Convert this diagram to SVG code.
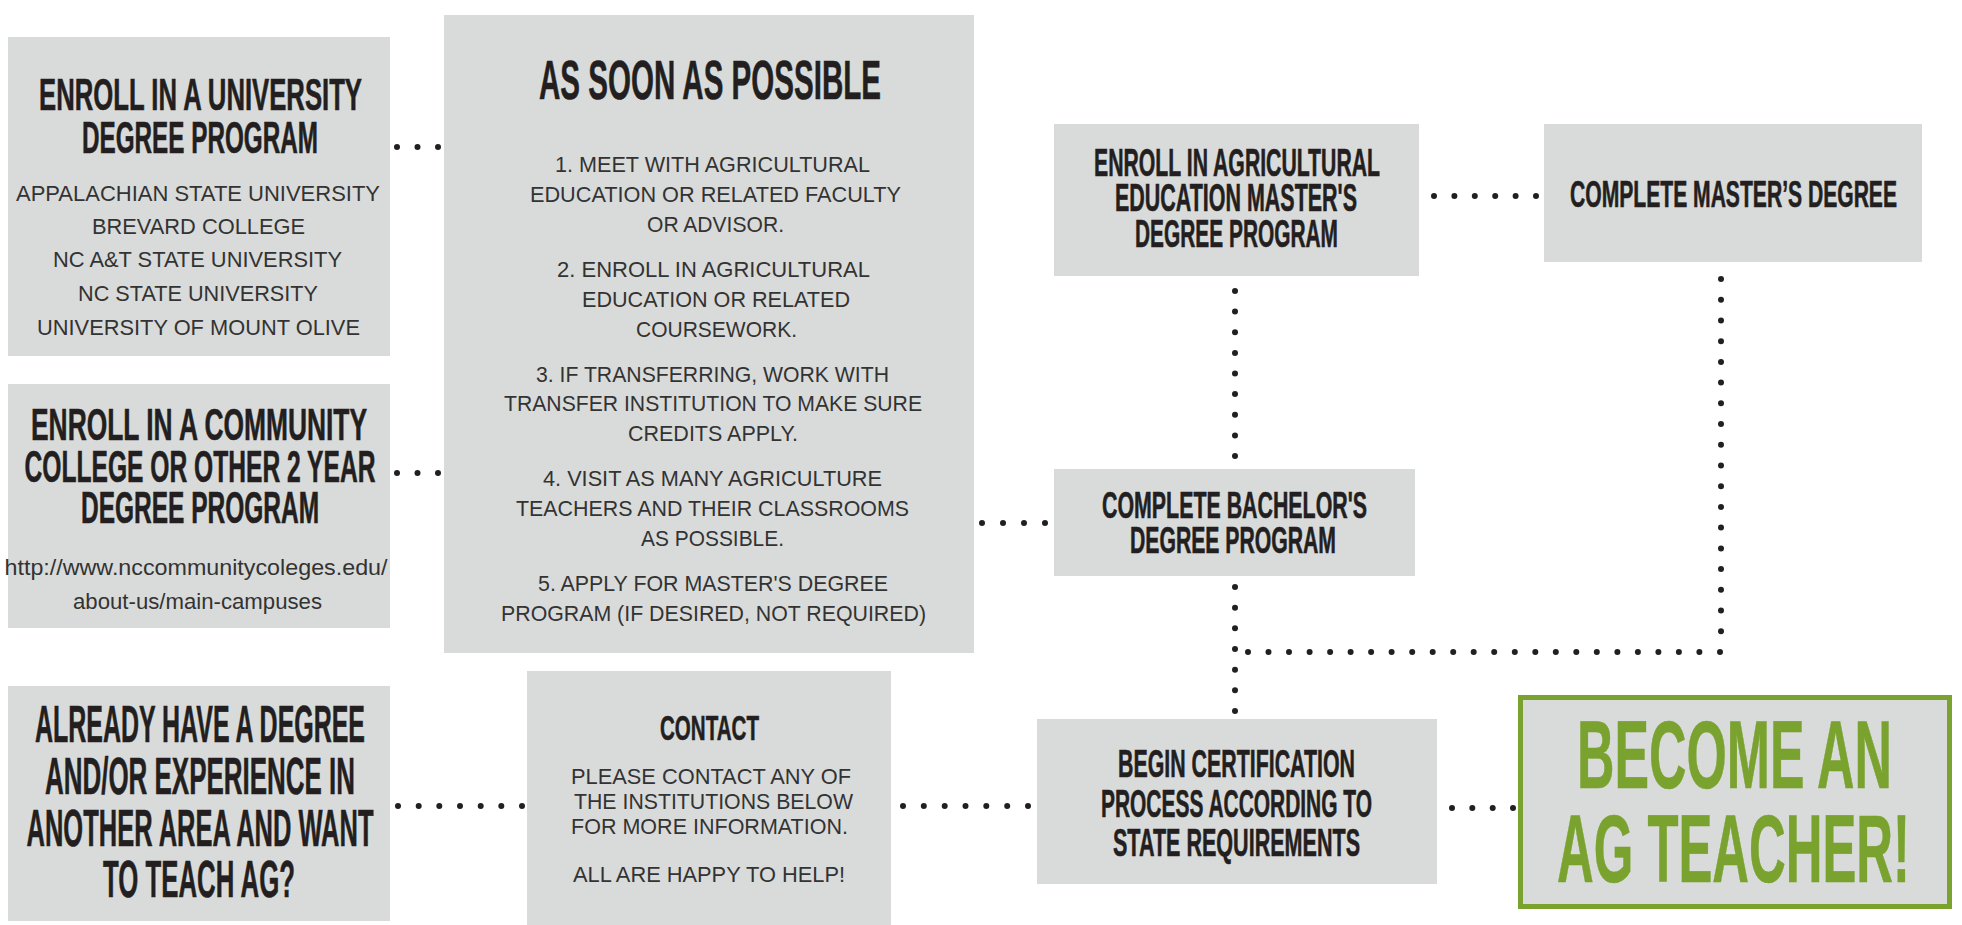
<svg xmlns="http://www.w3.org/2000/svg" width="1962" height="925" viewBox="0 0 1962 925">
<style>
.box{fill:#d9dbda}
.gbox{fill:#d9dbda;stroke:#79a22e;stroke-width:5}
.t{font-family:"Liberation Sans Narrow","Liberation Sans","DejaVu Sans Condensed",sans-serif;font-weight:bold;fill:#231f20;stroke:#231f20;stroke-width:0.6;text-anchor:middle}
.g{fill:#79a22e;stroke:#79a22e}
.b{font-family:"Liberation Sans","Helvetica",Arial,sans-serif;font-size:21.5px;fill:#333333;text-anchor:middle}
.d{fill:#231f20}
</style>
<rect width="1962" height="925" fill="#ffffff"/>

<g id="connectors">
  <!-- university -> asap -->
  <circle class="d" cx="397" cy="147" r="3"/><circle class="d" cx="417.5" cy="147" r="3"/><circle class="d" cx="438" cy="147" r="3"/>
  <!-- community -> asap -->
  <circle class="d" cx="397" cy="473" r="3"/><circle class="d" cx="417.5" cy="473" r="3"/><circle class="d" cx="438" cy="473" r="3"/>
  <!-- already -> contact -->
  <circle class="d" cx="398" cy="806" r="3"/><circle class="d" cx="418.7" cy="806" r="3"/><circle class="d" cx="439.3" cy="806" r="3"/><circle class="d" cx="460" cy="806" r="3"/><circle class="d" cx="480.7" cy="806" r="3"/><circle class="d" cx="501.3" cy="806" r="3"/><circle class="d" cx="522" cy="806" r="3"/>
  <!-- contact -> certification -->
  <circle class="d" cx="903" cy="806" r="3"/><circle class="d" cx="923.8" cy="806" r="3"/><circle class="d" cx="944.7" cy="806" r="3"/><circle class="d" cx="965.5" cy="806" r="3"/><circle class="d" cx="986.3" cy="806" r="3"/><circle class="d" cx="1007.2" cy="806" r="3"/><circle class="d" cx="1028" cy="806" r="3"/>
  <!-- asap -> bachelor -->
  <circle class="d" cx="982" cy="523" r="3"/><circle class="d" cx="1003" cy="523" r="3"/><circle class="d" cx="1024" cy="523" r="3"/><circle class="d" cx="1045" cy="523" r="3"/>
  <!-- enroll masters -> complete masters -->
  <circle class="d" cx="1434" cy="196" r="3"/><circle class="d" cx="1454.4" cy="196" r="3"/><circle class="d" cx="1474.8" cy="196" r="3"/><circle class="d" cx="1495.2" cy="196" r="3"/><circle class="d" cx="1515.6" cy="196" r="3"/><circle class="d" cx="1536" cy="196" r="3"/>
  <!-- enroll masters down to bachelor -->
  <circle class="d" cx="1235" cy="291" r="3"/><circle class="d" cx="1235" cy="311.6" r="3"/><circle class="d" cx="1235" cy="332.3" r="3"/><circle class="d" cx="1235" cy="352.9" r="3"/><circle class="d" cx="1235" cy="373.5" r="3"/><circle class="d" cx="1235" cy="394.1" r="3"/><circle class="d" cx="1235" cy="414.8" r="3"/><circle class="d" cx="1235" cy="435.4" r="3"/><circle class="d" cx="1235" cy="456" r="3"/>
  <!-- bachelor down to certification -->
  <circle class="d" cx="1235" cy="587" r="3"/><circle class="d" cx="1235" cy="607.7" r="3"/><circle class="d" cx="1235" cy="628.3" r="3"/><circle class="d" cx="1235" cy="649" r="3"/><circle class="d" cx="1235" cy="669.7" r="3"/><circle class="d" cx="1235" cy="690.3" r="3"/><circle class="d" cx="1235" cy="711" r="3"/>
  <!-- horizontal joining the master's line to the bachelor line -->
  <circle class="d" cx="1248" cy="652" r="3"/><circle class="d" cx="1268.5" cy="652" r="3"/><circle class="d" cx="1289" cy="652" r="3"/><circle class="d" cx="1309.6" cy="652" r="3"/><circle class="d" cx="1330.1" cy="652" r="3"/><circle class="d" cx="1350.6" cy="652" r="3"/><circle class="d" cx="1371.1" cy="652" r="3"/><circle class="d" cx="1391.6" cy="652" r="3"/><circle class="d" cx="1412.2" cy="652" r="3"/><circle class="d" cx="1432.7" cy="652" r="3"/><circle class="d" cx="1453.2" cy="652" r="3"/><circle class="d" cx="1473.7" cy="652" r="3"/><circle class="d" cx="1494.2" cy="652" r="3"/><circle class="d" cx="1514.8" cy="652" r="3"/><circle class="d" cx="1535.3" cy="652" r="3"/><circle class="d" cx="1555.8" cy="652" r="3"/><circle class="d" cx="1576.3" cy="652" r="3"/><circle class="d" cx="1596.8" cy="652" r="3"/><circle class="d" cx="1617.4" cy="652" r="3"/><circle class="d" cx="1637.9" cy="652" r="3"/><circle class="d" cx="1658.4" cy="652" r="3"/><circle class="d" cx="1678.9" cy="652" r="3"/><circle class="d" cx="1699.4" cy="652" r="3"/><circle class="d" cx="1720" cy="652" r="3"/>
  <!-- complete masters down -->
  <circle class="d" cx="1721" cy="279" r="3"/><circle class="d" cx="1721" cy="299.7" r="3"/><circle class="d" cx="1721" cy="320.4" r="3"/><circle class="d" cx="1721" cy="341.2" r="3"/><circle class="d" cx="1721" cy="361.9" r="3"/><circle class="d" cx="1721" cy="382.6" r="3"/><circle class="d" cx="1721" cy="403.3" r="3"/><circle class="d" cx="1721" cy="424" r="3"/><circle class="d" cx="1721" cy="444.8" r="3"/><circle class="d" cx="1721" cy="465.5" r="3"/><circle class="d" cx="1721" cy="486.2" r="3"/><circle class="d" cx="1721" cy="506.9" r="3"/><circle class="d" cx="1721" cy="527.6" r="3"/><circle class="d" cx="1721" cy="548.4" r="3"/><circle class="d" cx="1721" cy="569.1" r="3"/><circle class="d" cx="1721" cy="589.8" r="3"/><circle class="d" cx="1721" cy="610.5" r="3"/><circle class="d" cx="1721" cy="631.2" r="3"/>
  <!-- certification -> become -->
  <circle class="d" cx="1452" cy="808" r="3"/><circle class="d" cx="1472.3" cy="808" r="3"/><circle class="d" cx="1492.7" cy="808" r="3"/><circle class="d" cx="1513" cy="808" r="3"/>
</g>

<g id="university">
  <rect class="box" x="8" y="37" width="382" height="319"/>
  <text class="t" transform="translate(200.5,110) scale(0.65,1)" x="0" y="0" font-size="44" textLength="496.9" lengthAdjust="spacingAndGlyphs">ENROLL IN A UNIVERSITY</text>
  <text class="t" transform="translate(200,153) scale(0.65,1)" x="0" y="0" font-size="44" textLength="363.1" lengthAdjust="spacingAndGlyphs">DEGREE PROGRAM</text>
  <text class="b" x="198" y="201" textLength="364" lengthAdjust="spacingAndGlyphs">APPALACHIAN STATE UNIVERSITY</text>
  <text class="b" x="198.5" y="234" textLength="213" lengthAdjust="spacingAndGlyphs">BREVARD COLLEGE</text>
  <text class="b" x="197.5" y="267" textLength="289" lengthAdjust="spacingAndGlyphs">NC A&amp;T STATE UNIVERSITY</text>
  <text class="b" x="198" y="301" textLength="240" lengthAdjust="spacingAndGlyphs">NC STATE UNIVERSITY</text>
  <text class="b" x="198.5" y="335" textLength="323" lengthAdjust="spacingAndGlyphs">UNIVERSITY OF MOUNT OLIVE</text>
</g>

<g id="community">
  <rect class="box" x="8" y="384" width="382" height="244"/>
  <text class="t" transform="translate(199,440) scale(0.65,1)" x="0" y="0" font-size="45" textLength="516.9" lengthAdjust="spacingAndGlyphs">ENROLL IN A COMMUNITY</text>
  <text class="t" transform="translate(200,482) scale(0.65,1)" x="0" y="0" font-size="45" textLength="540" lengthAdjust="spacingAndGlyphs">COLLEGE OR OTHER 2 YEAR</text>
  <text class="t" transform="translate(200,523) scale(0.65,1)" x="0" y="0" font-size="45" textLength="366.2" lengthAdjust="spacingAndGlyphs">DEGREE PROGRAM</text>
  <text class="b" x="196" y="575" textLength="383" lengthAdjust="spacingAndGlyphs">http://www.nccommunitycoleges.edu/</text>
  <text class="b" x="197.5" y="609" textLength="249" lengthAdjust="spacingAndGlyphs">about-us/main-campuses</text>
</g>

<g id="already">
  <rect class="box" x="8" y="686" width="382" height="235"/>
  <text class="t" transform="translate(200,742) scale(0.65,1)" x="0" y="0" font-size="52" textLength="507.7" lengthAdjust="spacingAndGlyphs">ALREADY HAVE A DEGREE</text>
  <text class="t" transform="translate(200,794) scale(0.65,1)" x="0" y="0" font-size="52" textLength="476.9" lengthAdjust="spacingAndGlyphs">AND/OR EXPERIENCE IN</text>
  <text class="t" transform="translate(200,846) scale(0.65,1)" x="0" y="0" font-size="52" textLength="533.8" lengthAdjust="spacingAndGlyphs">ANOTHER AREA AND WANT</text>
  <text class="t" transform="translate(199,897) scale(0.65,1)" x="0" y="0" font-size="52" textLength="295.4" lengthAdjust="spacingAndGlyphs">TO TEACH AG?</text>
</g>

<g id="asap">
  <rect class="box" x="444" y="15" width="530" height="638"/>
  <text class="t" transform="translate(710,99) scale(0.65,1)" x="0" y="0" font-size="55" textLength="526.2" lengthAdjust="spacingAndGlyphs">AS SOON AS POSSIBLE</text>
  <text class="b" x="712.5" y="172" textLength="315" lengthAdjust="spacingAndGlyphs">1. MEET WITH AGRICULTURAL</text>
  <text class="b" x="715.5" y="202" textLength="371" lengthAdjust="spacingAndGlyphs">EDUCATION OR RELATED FACULTY</text>
  <text class="b" x="715.5" y="232" textLength="137" lengthAdjust="spacingAndGlyphs">OR ADVISOR.</text>
  <text class="b" x="713.5" y="277" textLength="313" lengthAdjust="spacingAndGlyphs">2. ENROLL IN AGRICULTURAL</text>
  <text class="b" x="716" y="307" textLength="268" lengthAdjust="spacingAndGlyphs">EDUCATION OR RELATED</text>
  <text class="b" x="716.5" y="337" textLength="161" lengthAdjust="spacingAndGlyphs">COURSEWORK.</text>
  <text class="b" x="712.5" y="382" textLength="353" lengthAdjust="spacingAndGlyphs">3. IF TRANSFERRING, WORK WITH</text>
  <text class="b" x="713" y="411" textLength="418" lengthAdjust="spacingAndGlyphs">TRANSFER INSTITUTION TO MAKE SURE</text>
  <text class="b" x="713" y="441" textLength="170" lengthAdjust="spacingAndGlyphs">CREDITS APPLY.</text>
  <text class="b" x="712.5" y="486" textLength="339" lengthAdjust="spacingAndGlyphs">4. VISIT AS MANY AGRICULTURE</text>
  <text class="b" x="712.5" y="516" textLength="393" lengthAdjust="spacingAndGlyphs">TEACHERS AND THEIR CLASSROOMS</text>
  <text class="b" x="712.5" y="546" textLength="143" lengthAdjust="spacingAndGlyphs">AS POSSIBLE.</text>
  <text class="b" x="713" y="591" textLength="350" lengthAdjust="spacingAndGlyphs">5. APPLY FOR MASTER'S DEGREE</text>
  <text class="b" x="713.5" y="621" textLength="425" lengthAdjust="spacingAndGlyphs">PROGRAM (IF DESIRED, NOT REQUIRED)</text>
</g>

<g id="contact">
  <rect class="box" x="527" y="671" width="364" height="254"/>
  <text class="t" transform="translate(709.5,740) scale(0.65,1)" x="0" y="0" font-size="36" textLength="152.3" lengthAdjust="spacingAndGlyphs">CONTACT</text>
  <text class="b" x="711" y="784" textLength="280" lengthAdjust="spacingAndGlyphs">PLEASE CONTACT ANY OF</text>
  <text class="b" x="713.5" y="809" textLength="279" lengthAdjust="spacingAndGlyphs">THE INSTITUTIONS BELOW</text>
  <text class="b" x="709.5" y="834" textLength="277" lengthAdjust="spacingAndGlyphs">FOR MORE INFORMATION.</text>
  <text class="b" x="709" y="882" textLength="272" lengthAdjust="spacingAndGlyphs">ALL ARE HAPPY TO HELP!</text>
</g>

<g id="enroll-masters">
  <rect class="box" x="1054" y="124" width="365" height="152"/>
  <text class="t" transform="translate(1237,176) scale(0.65,1)" x="0" y="0" font-size="38" textLength="440" lengthAdjust="spacingAndGlyphs">ENROLL IN AGRICULTURAL</text>
  <text class="t" transform="translate(1236,211) scale(0.65,1)" x="0" y="0" font-size="38" textLength="372.3" lengthAdjust="spacingAndGlyphs">EDUCATION MASTER'S</text>
  <text class="t" transform="translate(1236.5,247) scale(0.65,1)" x="0" y="0" font-size="38" textLength="312.3" lengthAdjust="spacingAndGlyphs">DEGREE PROGRAM</text>
</g>

<g id="complete-masters">
  <rect class="box" x="1544" y="124" width="378" height="138"/>
  <text class="t" transform="translate(1733.5,207) scale(0.65,1)" x="0" y="0" font-size="37" textLength="503.1" lengthAdjust="spacingAndGlyphs">COMPLETE MASTER’S DEGREE</text>
</g>

<g id="bachelor">
  <rect class="box" x="1054" y="469" width="361" height="107"/>
  <text class="t" transform="translate(1234.5,518) scale(0.65,1)" x="0" y="0" font-size="37" textLength="407.7" lengthAdjust="spacingAndGlyphs">COMPLETE BACHELOR'S</text>
  <text class="t" transform="translate(1233,553) scale(0.65,1)" x="0" y="0" font-size="37" textLength="316.9" lengthAdjust="spacingAndGlyphs">DEGREE PROGRAM</text>
</g>

<g id="certification">
  <rect class="box" x="1037" y="719" width="400" height="165"/>
  <text class="t" transform="translate(1236.5,777) scale(0.65,1)" x="0" y="0" font-size="38" textLength="364.6" lengthAdjust="spacingAndGlyphs">BEGIN CERTIFICATION</text>
  <text class="t" transform="translate(1236.5,817) scale(0.65,1)" x="0" y="0" font-size="38" textLength="416.9" lengthAdjust="spacingAndGlyphs">PROCESS ACCORDING TO</text>
  <text class="t" transform="translate(1236.5,856) scale(0.65,1)" x="0" y="0" font-size="38" textLength="380" lengthAdjust="spacingAndGlyphs">STATE REQUIREMENTS</text>
</g>

<g id="become">
  <rect class="gbox" x="1520.5" y="697.5" width="429" height="209"/>
  <text class="t g" transform="translate(1734.5,788) scale(0.55,1)" x="0" y="0" font-size="96" textLength="572.7" lengthAdjust="spacingAndGlyphs">BECOME AN</text>
  <text class="t g" transform="translate(1733.5,882) scale(0.55,1)" x="0" y="0" font-size="96" textLength="641.8" lengthAdjust="spacingAndGlyphs">AG TEACHER!</text>
</g>
</svg>
